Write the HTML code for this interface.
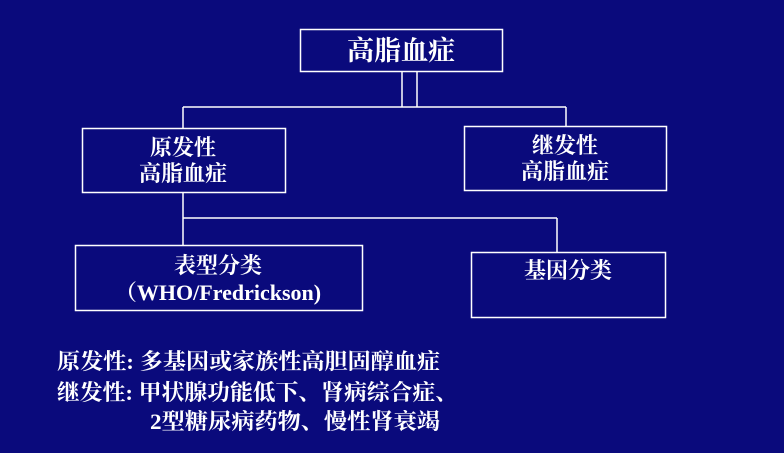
<!DOCTYPE html>
<html><head><meta charset="utf-8"><style>
body{margin:0;width:784px;height:453px;background:#0a0a7c;overflow:hidden}
svg{display:block}
text{font-family:"Liberation Serif","Noto Serif CJK SC",serif;fill:#fff;font-weight:bold}
</style></head><body>
<svg width="784" height="453" viewBox="0 0 784 453">
<g fill="none" stroke="#fff" stroke-width="1.5">
<rect x="300.5" y="29.5" width="202" height="42"/>
<line x1="402" y1="72" x2="402" y2="107"/>
<line x1="417" y1="72" x2="417" y2="107"/>
<line x1="183" y1="107" x2="566" y2="107"/>
<line x1="566" y1="107" x2="566" y2="126"/>
<line x1="183" y1="107" x2="183" y2="128"/>
<rect x="82.5" y="128.5" width="203" height="64"/>
<rect x="464.5" y="126.5" width="202" height="64"/>
<line x1="183" y1="193" x2="183" y2="245"/>
<line x1="183" y1="218" x2="557" y2="218"/>
<line x1="557" y1="218" x2="557" y2="252"/>
<rect x="75.5" y="245.5" width="287" height="65"/>
<rect x="471.5" y="252.5" width="194" height="65"/>
</g>
<g text-anchor="middle" font-size="22">
<text x="401" y="60" font-size="27" font-weight="normal">高脂血症</text>
<text x="183" y="155">原发性</text>
<text x="183" y="181">高脂血症</text>
<text x="565" y="153">继发性</text>
<text x="565" y="179">高脂血症</text>
<text x="218" y="273">表型分类</text>
<text x="218" y="300">（WHO/Fredrickson)</text>
<text x="568" y="278">基因分类</text>
</g>
<g font-size="22">
<text x="57" y="369" textLength="383" lengthAdjust="spacingAndGlyphs">原发性: 多基因或家族性高胆固醇血症</text>
<text x="57" y="400" textLength="401" lengthAdjust="spacingAndGlyphs">继发性: 甲状腺功能低下、肾病综合症、</text>
<text x="150" y="429" textLength="290" lengthAdjust="spacingAndGlyphs">2型糖尿病药物、慢性肾衰竭</text>
</g>
</svg>
</body></html>
